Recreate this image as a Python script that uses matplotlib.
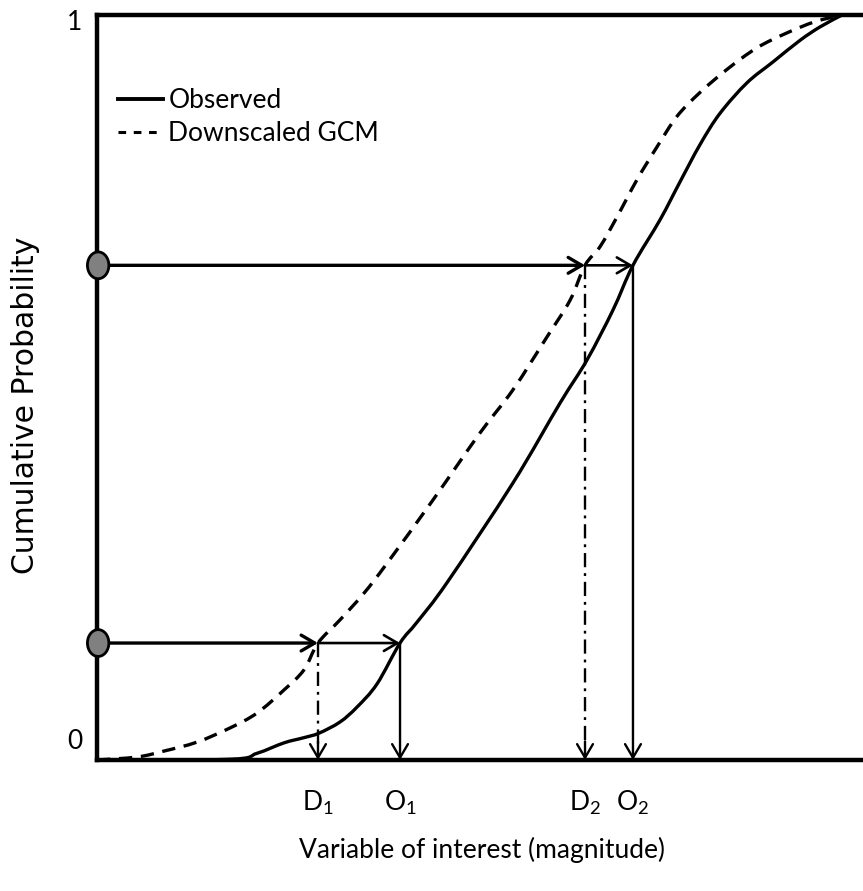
import matplotlib.pyplot as plt
from matplotlib.patches import Ellipse, PathPatch
from matplotlib.path import Path
from matplotlib.lines import Line2D

plt.rcParams['font.family'] = ['Lato', 'DejaVu Sans']
plt.rcParams['mathtext.default'] = 'regular'

# observed CDF
obs_x = [0, 17.36, 20.89, 24.41, 27.02, 28.98, 31.72, 33.94, 36.55, 39.56, 41.78,
         45.69, 54.31, 60.44, 63.97, 67.36, 69.97, 73.50, 76.11, 78.72, 81.33,
         84.86, 88.25, 91.78, 94.39, 97.26]
obs_y = [0, .001, .009, .023, .030, .036, .051, .071, .102, .157, .185,
         .238, .372, .479, .537, .604, .664, .725, .776, .826, .868,
         .909, .937, .966, .984, 1.0]

# downscaled GCM CDF
gcm_x = [0, 5.22, 8.75, 13.05, 17.36, 20.89, 24.41, 27.02, 28.85, 31.72, 34.86,
         37.86, 43.86, 50.00, 54.31, 58.75, 61.75, 63.71, 65.67, 67.89, 70.50,
         73.11, 75.72, 78.72, 82.25, 86.16, 90.08, 93.73, 97.26]
gcm_y = [0, .004, .012, .024, .043, .063, .094, .121, .157, .188, .224,
         .264, .349, .439, .497, .568, .617, .664, .689, .729, .779,
         .823, .864, .896, .927, .956, .976, .991, 1.0]

probs = [0.157, 0.664]
d_vals = [28.85, 63.71]
o_vals = [39.56, 69.97]
d_labels = ['D$_1$', 'D$_2$']
o_labels = ['O$_1$', 'O$_2$']


def smooth_path(xs, ys):
    # Catmull-Rom through the read points, drawn as cubic Bezier segments
    pts = list(zip(xs, ys))
    verts = [pts[0]]
    codes = [Path.MOVETO]
    n = len(pts)
    for i in range(n - 1):
        p0 = pts[max(i - 1, 0)]
        p1 = pts[i]
        p2 = pts[i + 1]
        p3 = pts[min(i + 2, n - 1)]
        c1 = (p1[0] + (p2[0] - p0[0]) / 6, p1[1] + (p2[1] - p0[1]) / 6)
        c2 = (p2[0] - (p3[0] - p1[0]) / 6, p2[1] - (p3[1] - p1[1]) / 6)
        verts += [c1, c2, p2]
        codes += [Path.CURVE4] * 3
    return Path(verts, codes)


fig = plt.figure(figsize=(8.63, 8.91), dpi=100)
ax = fig.add_axes([97 / 863, 131 / 891, 1 - 97 / 863, 745 / 891])
ax.set_xlim(0, 100)
ax.set_ylim(0, 1)

curve_lw = 2.4
gcm_dash = (0, (4, 2.6))
ax.add_patch(PathPatch(smooth_path(obs_x, obs_y), fill=False, edgecolor='black',
                       lw=curve_lw, capstyle='butt'))
ax.add_patch(PathPatch(smooth_path(gcm_x, gcm_y), fill=False, edgecolor='black',
                       lw=curve_lw, ls=gcm_dash, capstyle='butt'))

head = dict(arrowstyle='->,head_length=0.65,head_width=0.38', color='black',
            shrinkA=0, shrinkB=0, mutation_scale=15)

for p, d, o in zip(probs, d_vals, o_vals):
    # horizontal arrows from the probability axis
    ax.annotate('', xy=(d, p), xytext=(0, p), arrowprops=dict(head, lw=2.4))
    ax.annotate('', xy=(o, p), xytext=(d, p), arrowprops=dict(head, lw=1.9))
    # vertical drop to the observed value
    ax.annotate('', xy=(o, 0), xytext=(o, p), arrowprops=dict(head, lw=1.7))
    # vertical drop to the GCM value (dash-dot)
    ax.plot([d, d], [p, 0.02], color='black', lw=1.7, ls=(0, (6, 2.5, 1.2, 2.5)))
    ax.annotate('', xy=(d, 0), xytext=(d, 0.025), arrowprops=dict(head, lw=1.7))
    # probability markers on the y axis
    ax.add_patch(Ellipse((0.15, p), 2.8, 0.036, facecolor='#808080',
                         edgecolor='black', lw=2, clip_on=False, zorder=5))

for d, lab in zip(d_vals, d_labels):
    ax.text(d, -0.057, lab, ha='center', va='center', fontsize=19)
for o, lab in zip(o_vals, o_labels):
    ax.text(o, -0.057, lab, ha='center', va='center', fontsize=19)

ax.text(-2.9, 0.99, '1', ha='center', va='center', fontsize=19)
ax.text(-2.9, 0.025, '0', ha='center', va='center', fontsize=19)

for side in ['left', 'top', 'bottom']:
    ax.spines[side].set_linewidth(3.2)
ax.spines['right'].set_visible(False)
ax.set_xticks([])
ax.set_yticks([])

handles = [Line2D([], [], color='black', lw=2.8),
           Line2D([], [], color='black', lw=2.2, ls=(0, (2.5, 2.5)))]
ax.legend(handles, ['Observed', 'Downscaled GCM'], loc='upper left',
          bbox_to_anchor=(0.0, 0.93), frameon=False, fontsize=19,
          handlelength=1.7, handletextpad=0.2, labelspacing=0.3,
          borderaxespad=0.4)

fig.text(0.558, 0.046, 'Variable of interest (magnitude)', ha='center',
         va='center', fontsize=19)
fig.text(0.029, 0.545, 'Cumulative Probability', rotation=90, ha='center',
         va='center', fontsize=21.5, family='DejaVu Sans')

fig.savefig('out.png', dpi=100)
